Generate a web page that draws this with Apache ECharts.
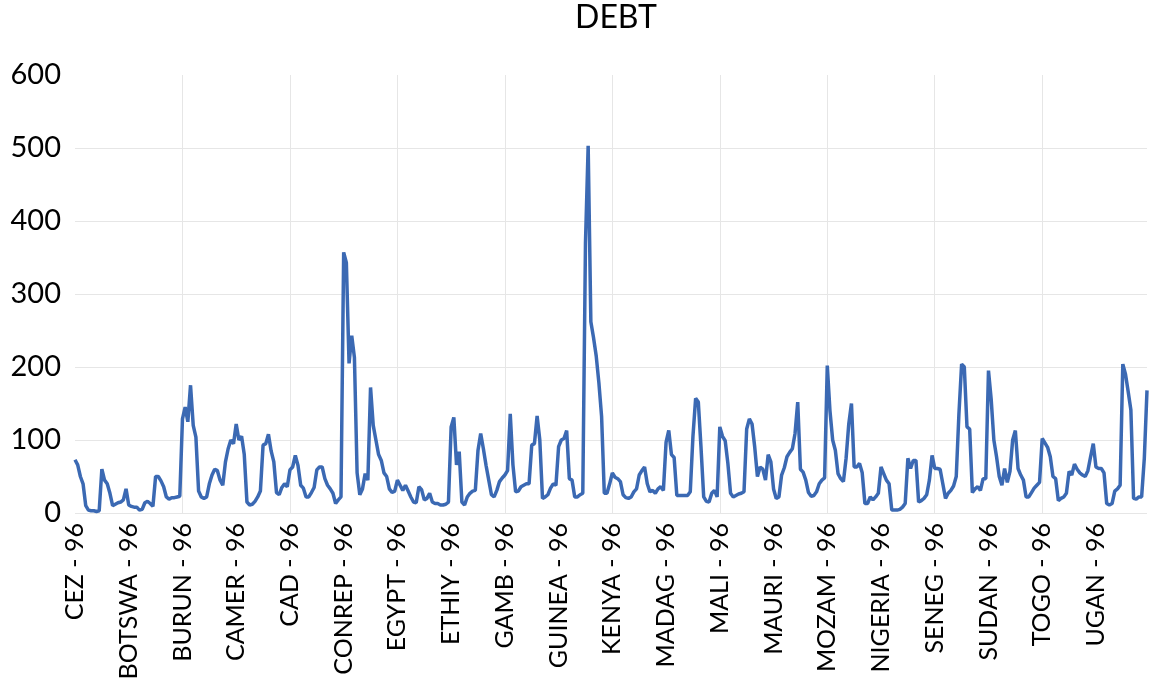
<!DOCTYPE html>
<html>
<head>
<meta charset="utf-8">
<script src="https://cdn.jsdelivr.net/npm/echarts@6/dist/echarts.min.js"></script>
<style>
html,body{margin:0;padding:0;background:#fff;}
#chart{width:1155px;height:686px;}
</style>
</head>
<body>
<div id="chart"></div>
<script>
const countries = ["CEZ","BOTSWA","BURUN","CAMER","CAD","CONREP","EGYPT","ETHIY","GAMB","GUINEA","KENYA","MADAG","MALI","MAURI","MOZAM","NIGERIA","SENEG","SUDAN","TOGO","UGAN"];
const years = ["96","97","98","99","00","01","02","03","04","05","06","07","08","09","10","11","12","13","14","15"];
const yTicks = [0,100,200,300,400,500,600];

const debtCEZ     = [73,66,50,40,10,4,3,3,2,3,60,45,40,27,10,12,14,15,18,33];
const debtBOTSWA  = [11,9,8,8,4,5,14,16,13,9,50,50,44,36,22,19,21,21,22,23];
const debtBURUN   = [129,145,125,175,120,104,30,22,20,22,40,52,60,58,45,38,70,88,100,95];
const debtCAMER   = [122,100,105,80,15,11,12,16,22,30,93,95,108,85,70,28,25,35,40,36];
const debtCAD     = [59,63,79,65,38,34,22,22,28,35,59,63,63,47,38,33,27,13,18,22];
const debtCONREP  = [357,343,205,243,213,55,25,33,54,45,172,120,100,80,72,55,50,33,28,30];
const debtEGYPT   = [45,38,31,38,30,22,15,14,36,32,18,20,27,15,13,13,11,11,12,15];
const debtETHIY   = [118,131,66,84,15,11,22,27,30,31,86,109,88,65,45,25,22,31,43,48];
const debtGAMB    = [52,58,136,66,29,30,36,38,40,40,93,95,133,100,20,22,25,34,40,38];
const debtGUINEA  = [91,100,102,113,47,45,22,22,25,27,370,503,262,240,215,178,132,27,27,40];
const debtKENYA   = [55,49,47,43,25,21,20,22,29,33,52,58,63,40,29,31,27,33,36,31];
const debtMADAG   = [97,113,80,76,24,24,24,24,24,29,105,157,152,90,22,16,15,27,31,22];
const debtMALI    = [118,105,99,68,27,22,24,26,27,29,115,129,122,90,50,63,60,45,80,70];
const debtMAURI   = [33,20,22,52,62,77,83,88,109,152,60,56,45,28,23,24,29,40,45,48];
const debtMOZAM   = [202,140,100,86,54,47,43,75,122,150,63,63,68,55,13,13,22,18,22,27];
const debtNIGERIA = [63,54,45,40,4,4,4,5,8,13,75,61,72,72,15,17,20,25,45,79];
const debtSENEG   = [61,61,60,40,20,27,31,37,50,136,204,200,118,115,28,33,36,31,47,47];
const debtSUDAN   = [195,156,100,77,50,38,61,42,57,100,113,61,52,45,22,22,28,34,38,42];
const debtTOGO    = [102,96,90,77,50,47,17,20,22,27,57,52,67,60,55,52,50,58,77,95];
const debtUGAN    = [63,61,61,55,13,11,13,30,33,38,204,190,166,141,20,19,22,22,75,168];

const seriesBlocks = [debtCEZ,debtBOTSWA,debtBURUN,debtCAMER,debtCAD,debtCONREP,debtEGYPT,debtETHIY,debtGAMB,debtGUINEA,debtKENYA,debtMADAG,debtMALI,debtMAURI,debtMOZAM,debtNIGERIA,debtSENEG,debtSUDAN,debtTOGO,debtUGAN];

const categories = [];
countries.forEach(c => years.forEach(y => categories.push(c + ' - ' + y)));
const values = [].concat(...seriesBlocks);

const FONT = 'Lato';
const chart = echarts.init(document.getElementById('chart'), null, {renderer:'canvas'});
chart.setOption({
  animation: false,
  backgroundColor: '#ffffff',
  title: {
    text: 'DEBT',
    left: 611,
    top: -3,
    textAlign: 'center',
    textStyle: {fontFamily: FONT, fontSize: 32, fontWeight: 'normal', color: '#000'}
  },
  grid: {left: 75, right: 8, top: 75, bottom: 173, containLabel: false},
  xAxis: {
    type: 'category',
    data: categories,
    boundaryGap: false,
    axisLine: {show: false},
    axisTick: {show: false},
    axisLabel: {
      interval: 19,
      rotate: 90,
      margin: 10,
      fontFamily: FONT,
      fontSize: 25,
      color: '#000'
    },
    splitLine: {
      show: true,
      interval: function (index) { return index > 0 && index % 40 === 0; },
      lineStyle: {color: '#e6e6e6', width: 1}
    }
  },
  yAxis: {
    type: 'value',
    min: yTicks[0],
    max: yTicks[yTicks.length - 1],
    interval: 100,
    axisLine: {show: false},
    axisTick: {show: false},
    axisLabel: {margin: 14, fontFamily: FONT, fontSize: 29, color: '#000'},
    splitLine: {show: true, showMaxLine: false, lineStyle: {color: '#e6e6e6', width: 1}}
  },
  series: [{
    type: 'line',
    data: values,
    showSymbol: false,
    symbol: 'none',
    lineStyle: {color: '#3b69b3', width: 3.5},
    itemStyle: {color: '#3b69b3'}
  }]
});
</script>
</body>
</html>
